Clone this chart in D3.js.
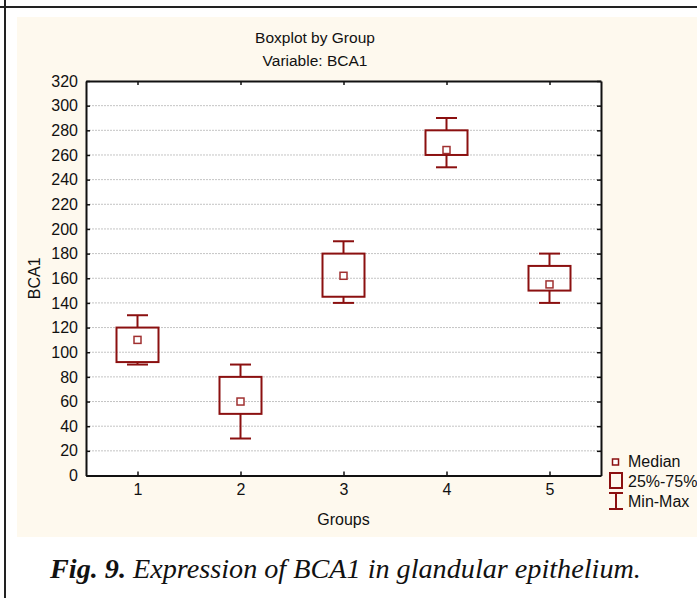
<!DOCTYPE html>
<html>
<head>
<meta charset="utf-8">
<script src="https://cdn.jsdelivr.net/npm/d3@7"></script>
<style>
  body { margin: 0; background: #fff; }
  svg { display: block; }
</style>
</head>
<body>
<svg id="chart" width="697" height="598"></svg>
<script>
// values
const groups = ["1", "2", "3", "4", "5"];
const minVals = [90, 30, 140, 250, 140];
const q1Vals = [92, 50, 145, 260, 150];
const medianVals = [110, 60, 162, 264, 155];
const q3Vals = [120, 80, 180, 280, 170];
const maxVals = [130, 90, 190, 290, 180];
const yTicks = [0, 20, 40, 60, 80, 100, 120, 140, 160, 180, 200, 220, 240, 260, 280, 300, 320];
const legendLabels = ["Median", "25%-75%", "Min-Max"];

const boxColor = "#8b1010";
const font = "'Liberation Sans', Arial, sans-serif";

const svg = d3.select("#chart");

// page frame lines and beige chart panel
svg.append("rect")
    .attr("x", 17).attr("y", 17)
    .attr("width", 680).attr("height", 520)
    .attr("fill", "#fef9ee");
svg.append("line")
    .attr("x1", 0).attr("x2", 697).attr("y1", 7).attr("y2", 7)
    .attr("stroke", "#222").attr("stroke-width", 2);
svg.append("line")
    .attr("x1", 5).attr("x2", 5).attr("y1", 0).attr("y2", 598)
    .attr("stroke", "#222").attr("stroke-width", 2);

const plot = { left: 86, right: 601, top: 81, bottom: 475.5 };

const x = d3.scalePoint()
    .domain(groups)
    .range([plot.left, plot.right])
    .padding(0.5);

const y = d3.scaleLinear()
    .domain([0, 320])
    .range([plot.bottom, plot.top]);

// white plotting area
svg.append("rect")
    .attr("x", plot.left).attr("y", plot.top)
    .attr("width", plot.right - plot.left)
    .attr("height", plot.bottom - plot.top)
    .attr("fill", "#fff");

// dotted gridlines
svg.append("g")
    .selectAll("line")
    .data(yTicks.filter(t => t > 0 && t < 320))
    .join("line")
    .attr("x1", plot.left).attr("x2", plot.right)
    .attr("y1", d => y(d)).attr("y2", d => y(d))
    .attr("stroke", "#c4c4c4")
    .attr("stroke-width", 1)
    .attr("stroke-dasharray", "2,1");

// axes, ticks pointing inside
function styleAxis(g) {
    g.selectAll("path.domain").attr("stroke", "#111").attr("stroke-width", 2);
    g.selectAll(".tick line").attr("stroke", "#111").attr("stroke-width", 1.5);
    g.selectAll("text").attr("font-family", font).attr("font-size", 16).attr("fill", "#111");
}

svg.append("g")
    .attr("transform", `translate(${plot.left},0)`)
    .call(d3.axisLeft(y).tickValues(yTicks).tickSizeInner(-4).tickSizeOuter(0).tickPadding(8))
    .call(styleAxis);

svg.append("g")
    .attr("transform", `translate(${plot.right},0)`)
    .call(d3.axisRight(y).tickValues(yTicks).tickSizeInner(-4).tickSizeOuter(0).tickFormat(""))
    .call(styleAxis);

svg.append("g")
    .attr("transform", `translate(0,${plot.bottom})`)
    .call(d3.axisBottom(x).tickSizeInner(-4).tickSizeOuter(0).tickPadding(8))
    .call(styleAxis);

svg.append("g")
    .attr("transform", `translate(0,${plot.top})`)
    .call(d3.axisTop(x).tickSizeInner(-4).tickSizeOuter(0).tickFormat(""))
    .call(styleAxis);

// boxes
const boxW = 42;
const capW = 21;
const rows = groups.map((g, i) => ({
    group: g, min: minVals[i], q1: q1Vals[i], median: medianVals[i], q3: q3Vals[i], max: maxVals[i]
}));

const box = svg.append("g").selectAll("g")
    .data(rows)
    .join("g")
    .attr("stroke", boxColor)
    .attr("stroke-width", 2)
    .attr("fill", "none");

// whiskers
box.append("line")
    .attr("x1", d => x(d.group)).attr("x2", d => x(d.group))
    .attr("y1", d => y(d.max)).attr("y2", d => y(d.q3));
box.append("line")
    .attr("x1", d => x(d.group)).attr("x2", d => x(d.group))
    .attr("y1", d => y(d.q1)).attr("y2", d => y(d.min));
box.append("line")
    .attr("x1", d => x(d.group) - capW / 2).attr("x2", d => x(d.group) + capW / 2)
    .attr("y1", d => y(d.max)).attr("y2", d => y(d.max));
box.append("line")
    .attr("x1", d => x(d.group) - capW / 2).attr("x2", d => x(d.group) + capW / 2)
    .attr("y1", d => y(d.min)).attr("y2", d => y(d.min));

box.append("rect")
    .attr("x", d => x(d.group) - boxW / 2)
    .attr("y", d => y(d.q3))
    .attr("width", boxW)
    .attr("height", d => y(d.q1) - y(d.q3));

box.append("rect")
    .attr("x", d => x(d.group) - 3.5)
    .attr("y", d => y(d.median) - 3.5)
    .attr("width", 7).attr("height", 7)
    .attr("fill", "#fff")
    .attr("stroke", "#a03030")
    .attr("stroke-width", 1.5);

// titles
svg.append("text")
    .attr("x", 315).attr("y", 43)
    .attr("text-anchor", "middle")
    .attr("font-family", font).attr("font-size", 15.5).attr("fill", "#111")
    .text("Boxplot by Group");
svg.append("text")
    .attr("x", 315).attr("y", 66)
    .attr("text-anchor", "middle")
    .attr("font-family", font).attr("font-size", 15.5).attr("fill", "#111")
    .text("Variable: BCA1");

svg.append("text")
    .attr("x", (plot.left + plot.right) / 2).attr("y", 525)
    .attr("text-anchor", "middle")
    .attr("font-family", font).attr("font-size", 16).attr("fill", "#111")
    .text("Groups");

svg.append("text")
    .attr("transform", `translate(40,${(plot.top + plot.bottom) / 2}) rotate(-90)`)
    .attr("text-anchor", "middle")
    .attr("font-family", font).attr("font-size", 16).attr("fill", "#111")
    .text("BCA1");

// legend
const legend = svg.append("g")
    .attr("stroke", boxColor).attr("fill", "none").attr("stroke-width", 2);
legend.append("rect")
    .attr("x", 612.5).attr("y", 459).attr("width", 6).attr("height", 6)
    .attr("fill", "#fff").attr("stroke-width", 1.5);
legend.append("rect")
    .attr("x", 610).attr("y", 473).attr("width", 12).attr("height", 15);
legend.append("line").attr("x1", 609).attr("x2", 623).attr("y1", 493).attr("y2", 493);
legend.append("line").attr("x1", 609).attr("x2", 623).attr("y1", 509).attr("y2", 509);
legend.append("line").attr("x1", 616).attr("x2", 616).attr("y1", 493).attr("y2", 509);

svg.append("g")
    .selectAll("text")
    .data(legendLabels)
    .join("text")
    .attr("x", 628)
    .attr("y", (d, i) => 467 + i * 20)
    .attr("font-family", font).attr("font-size", 16).attr("fill", "#111")
    .text(d => d);

// figure caption
const caption = svg.append("text")
    .attr("x", 50).attr("y", 578)
    .attr("font-family", "'Liberation Serif', 'Times New Roman', serif")
    .attr("font-size", 28.2)
    .attr("font-style", "italic")
    .attr("fill", "#111");
caption.append("tspan").attr("font-weight", "bold").text("Fig. 9.");
caption.append("tspan").text(" Expression of BCA1 in glandular epithelium.");
</script>
</body>
</html>
